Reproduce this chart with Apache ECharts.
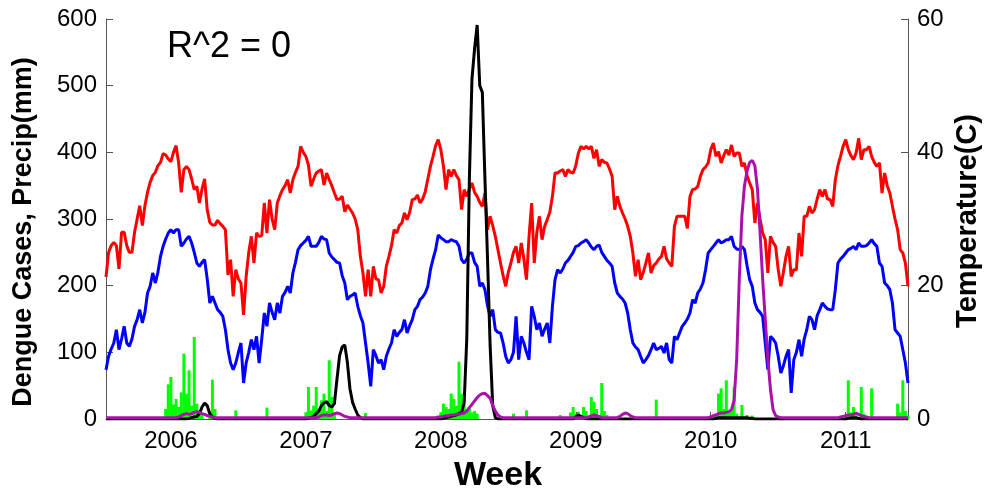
<!DOCTYPE html>
<html>
<head>
<meta charset="utf-8">
<title>Dengue weekly</title>
<script src="https://cdn.jsdelivr.net/npm/echarts@6/dist/echarts.min.js"></script>
<style>
    html, body {margin: 0; padding: 0; background: #fff;}
    #chart {width: 986px; height: 491px;}
</style>
</head>
<body>
<div id="chart"></div>
<script>
// week index 0 = first week on the left edge (mid 2005)
let yearTicks = [25, 77, 129, 181, 233, 285]
let yearLabels = ['2006', '2007', '2008', '2009', '2010', '2011']

// max temperature (C), right axis
let tmax = [
    21.3, 25, 26, 26.5, 26, 22.5, 28, 28, 26, 25,
    25, 28, 30, 32, 29, 32, 34, 35.5, 36.5, 37,
    38, 38.5, 39.8, 39.6, 39, 38.6, 40, 41, 38.4, 34,
    37.4, 37.9, 37.4, 36, 34.4, 34.9, 32.4, 34.5, 36, 31.4,
    29.5, 29.1, 29.1, 29.8, 29.3, 28.9, 28.4, 21.6, 23.9, 18.4,
    22.4, 21, 20.4, 15.6, 21.4, 25, 27.4, 23.4, 27.9, 27.4,
    27.5, 32.4, 27.9, 32.9, 30, 28.4, 32.4, 33.5, 34.4, 35,
    35.9, 33.9, 35.9, 37, 37.9, 40.9, 40, 39.4, 38.1, 34.9,
    36, 36.9, 37.2, 37.4, 35.1, 36.9, 35.9, 35, 33.9, 32.9,
    33, 33.4, 31.1, 32.1, 31.5, 30.9, 30, 28.4, 24.4, 21.9,
    18.4, 22.4, 18.4, 22.9, 21, 20.9, 18.9, 19.9, 22.9, 24.4,
    26, 28.4, 27.9, 29, 29.4, 30.9, 29.9, 31, 32.9, 33,
    33.6, 32.4, 33, 34.1, 36, 37.9, 39.4, 41, 41.9, 40.4,
    38, 34.4, 37.4, 36.4, 37.4, 36.5, 35.9, 31.4, 34.4, 33.4,
    34.5, 35.4, 34, 33.4, 32.5, 31.9, 33.9, 28.4, 30.4, 29,
    27.4, 25.4, 23.4, 21.5, 19.9, 22, 23.4, 25, 25.9, 23.4,
    26.4, 24, 20.9, 27.4, 32.4, 23.4, 28, 30.4, 26.9, 28.9,
    29.9, 31, 33.4, 36.9, 36.9, 37.2, 37.4, 36.4, 37.4, 37,
    36.9, 38, 39.9, 40.9, 40.5, 40.9, 40.5, 40.9, 39.1, 40.4,
    37.9, 38.9, 38.5, 38.4, 37.5, 36.4, 31.4, 33.4, 31.9, 30.9,
    30, 28.9, 27.4, 24.9, 21.4, 23.9, 20.9, 22, 23.4, 24.9,
    21.9, 23, 23.4, 24, 24.4, 25.9, 24, 23.4, 22.9, 28.9,
    30.4, 30.4, 30.4, 30.4, 28.6, 33.4, 34.4, 34.5, 34.9, 36.4,
    37.4, 37.8, 38.4, 40.4, 41.4, 39.4, 40.1, 38.4, 39.5, 40.4,
    39.6, 41.1, 39.4, 39.9, 39.9, 37.9, 38.4, 36.5, 35.4, 34.4,
    29.4, 32.4, 30, 27.9, 26.9, 21.9, 27.4, 26.5, 25.9, 22.4,
    19.9, 22, 24.4, 25.9, 21.4, 22.4, 22.4, 27.9, 24.4, 30.4,
    30.4, 31.9, 30.9, 31.4, 33, 34.4, 33.4, 34.4, 33, 32.9,
    31.9, 35.9, 38, 39.4, 40.9, 41.9, 40.4, 39.5, 38.9, 39.9,
    42.1, 38.9, 40.4, 40.4, 40.9, 39.4, 38.5, 37.9, 38.4, 33.9,
    36.9, 35, 33.9, 31.9, 30, 28.4, 25.4, 24.9, 23.4, 19.9
]

// min temperature (C), right axis
let tmin = [
    7.4, 9.4, 10.5, 11.4, 13.4, 10.4, 12, 13.9, 11.4, 10.9,
    12, 13.9, 14.9, 16.4, 14.4, 16, 18.9, 19.9, 21.9, 20.4,
    22, 24.4, 25.9, 27, 27.9, 28.4, 27.9, 28.4, 28.4, 25.9,
    26.4, 27, 27.4, 26.4, 25, 23.4, 22.9, 23.5, 23.9, 21,
    17.4, 18.4, 17.4, 16.4, 16, 15.4, 13.4, 10.4, 8.4, 7.4,
    8.4, 10, 11.4, 5.4, 8.4, 10, 11.9, 10.4, 12.4, 8.4,
    12, 15.9, 13.9, 17.4, 16, 14.9, 17.4, 15.9, 18.4, 19,
    19.9, 18.9, 21.9, 23.5, 25.4, 26, 26.4, 26.8, 27.4, 25.9,
    25.9, 25.9, 26.5, 27.4, 27, 26.9, 24.9, 24.3, 23.9, 23.5,
    23.4, 21.5, 20.4, 17.9, 18.4, 18.6, 18.9, 16.9, 15.5, 14.4,
    11.4, 8.4, 4.9, 10.4, 9.5, 8.4, 8.9, 7.4, 9.4, 10.5,
    11.4, 13.4, 12.4, 13, 13.4, 14.9, 12.9, 14, 14.9, 16.4,
    16.9, 17.9, 18.3, 18.9, 19.9, 22.4, 24, 25.4, 27.6, 27.2,
    26.9, 26.6, 26.6, 26.9, 26.7, 26.6, 25.9, 23.9, 23.4, 24,
    24.9, 24.9, 23.5, 22.9, 19.9, 20.4, 19.4, 17, 15.4, 16.4,
    13.4, 13, 12.9, 11.4, 9.4, 8.4, 8.9, 10, 15.4, 8.9,
    12.4, 11.4, 10, 8.9, 16.9, 15.4, 13.4, 14.4, 12.4, 13.5,
    14.4, 11.4, 16.9, 20.9, 22.4, 21.9, 22.5, 23.4, 23.8, 24.4,
    25, 25.9, 26, 26.4, 26.6, 26.9, 26.4, 25.8, 25.4, 25.9,
    26.1, 25, 24.4, 23.8, 23.4, 22.9, 20.4, 18.9, 18.4, 18,
    17.4, 15.9, 13.4, 11.4, 10.8, 10.4, 9.4, 8.4, 8.9, 9.5,
    10.4, 11.4, 10.4, 10.6, 10.9, 9.9, 11.4, 8.9, 8.4, 12.4,
    11.9, 12.9, 13.9, 14.4, 15, 15.9, 17.9, 17.4, 18.9, 19.5,
    20.4, 22.4, 24.9, 25.4, 25.9, 26.4, 26.9, 26.4, 26.6, 26.9,
    26.9, 27.4, 25.9, 25.5, 25.4, 25.9, 25.4, 23, 20.9, 19.9,
    17.4, 16.4, 16, 15.4, 11.4, 7.4, 12.4, 12, 11.4, 9.4,
    6.9, 8, 9.4, 10.4, 3.9, 8.9, 10, 11.9, 9.4, 12,
    13.4, 15.4, 14.9, 13.4, 15.5, 16.4, 17.4, 16.9, 16.5, 16.4,
    16.4, 19.4, 23.4, 24, 24.4, 24.9, 25.4, 25.6, 25.9, 25.4,
    26.4, 25.9, 25.9, 26, 26.4, 26.9, 26.3, 25.9, 23.4, 22.9,
    20.4, 20, 19.4, 17.4, 13.4, 12.9, 12.4, 10.4, 8.4, 5.4
]

// dengue cases (black), left axis
let cases = [
    0, 0, 0, 0, 0, 0, 0, 0, 0, 0,
    0, 0, 0, 0, 0, 0, 0, 0, 0, 0,
    0, 0, 0, 0, 0, 0, 0, 0, 0, 0,
    0, 0, 1, 2, 3, 4, 8, 18, 24, 20,
    8, 3, 1, 0, 0, 0, 0, 0, 0, 0,
    0, 0, 0, 0, 0, 0, 0, 0, 0, 0,
    0, 0, 0, 0, 0, 0, 0, 0, 0, 0,
    0, 0, 0, 0, 0, 0, 0, 0, 1, 2,
    4, 8, 12, 20, 24, 26, 20, 18, 23, 60,
    95, 108, 111, 85, 45, 25, 15, 6, 2, 0,
    0, 0, 0, 0, 0, 0, 0, 0, 0, 0,
    0, 0, 0, 0, 0, 0, 0, 0, 0, 0,
    0, 0, 0, 0, 0, 0, 0, 0, 0, 0,
    1, 2, 3, 4, 5, 6, 8, 10, 25, 120,
    360, 510, 555, 591, 500, 490, 360, 240, 110, 20,
    2, 0, 0, 0, 0, 0, 0, 0, 0, 0,
    0, 0, 0, 0, 0, 0, 0, 0, 0, 0,
    0, 0, 0, 0, 0, 0, 0, 0, 0, 0,
    0, 3, 6, 4, 2, 0, 0, 0, 0, 0,
    0, 0, 0, 0, 0, 0, 0, 0, 0, 0,
    0, 0, 0, 0, 0, 0, 0, 0, 0, 0,
    0, 0, 0, 0, 0, 0, 0, 0, 0, 0,
    0, 0, 0, 0, 0, 0, 0, 0, 0, 0,
    0, 0, 0, 0, 0, 1, 2, 2, 2, 2,
    2, 2, 2, 2, 2, 2, 2, 2, 1, 1,
    0, 0, 0, 0, 0, 0, 0, 0, 0, 0,
    0, 0, 0, 0, 0, 0, 0, 0, 0, 0,
    0, 0, 0, 0, 0, 0, 0, 0, 0, 0,
    0, 0, 0, 0, 0, 0, 1, 2, 2, 2,
    1, 0, 0, 0, 0, 0, 0, 0, 0, 0,
    0, 0, 0, 0, 0, 0, 0, 0, 0, 0
]

// model output (magenta), left axis
let model = [
    2, 2, 2, 2, 2, 2, 2, 2, 2, 2,
    2, 2, 2, 2, 2, 2, 2, 2, 2, 2,
    2, 2, 2, 2, 2, 2, 2, 2, 3, 5,
    7, 8, 7, 8, 10, 11, 10, 8, 7, 5,
    4, 3, 2, 2, 2, 2, 2, 2, 2, 2,
    2, 2, 2, 2, 2, 2, 2, 2, 2, 2,
    2, 2, 2, 2, 2, 2, 2, 2, 2, 2,
    2, 2, 2, 2, 2, 2, 2, 2, 2, 2,
    2, 2, 3, 5, 6, 6, 5, 6, 8, 9,
    8, 6, 4, 3, 2, 2, 2, 2, 2, 2,
    2, 2, 2, 2, 2, 2, 2, 2, 2, 2,
    2, 2, 2, 2, 2, 2, 2, 2, 2, 2,
    2, 2, 2, 2, 2, 2, 2, 2, 3, 3,
    4, 5, 5, 6, 6, 7, 7, 8, 9, 12,
    17, 22, 27, 32, 36, 38, 38.5, 35, 31, 20,
    12, 6, 3, 2, 2, 2, 2, 2, 2, 2,
    2, 2, 2, 2, 2, 2, 2, 2, 2, 2,
    2, 2, 2, 2, 2, 2, 2, 2, 2, 2,
    2, 2, 2, 2, 2, 2, 3, 5, 6, 5,
    4, 2, 2, 2, 2, 2, 2, 2, 4, 7,
    9, 8, 5, 3, 2, 2, 2, 2, 2, 2,
    2, 2, 2, 2, 2, 2, 2, 2, 2, 2,
    2, 2, 2, 2, 2, 2, 2, 2, 2, 2,
    2, 2, 2, 3, 5, 6, 8, 9, 9, 10,
    11, 14, 28, 90, 210, 305, 350, 372, 385, 388,
    380, 345, 280, 210, 150, 90, 45, 14, 5, 3,
    2, 2, 2, 2, 2, 2, 2, 2, 2, 2,
    2, 2, 2, 2, 2, 2, 2, 2, 2, 2,
    2, 2, 2, 3, 4, 5, 6, 6, 7, 9,
    7, 5, 4, 3, 2, 2, 2, 2, 2, 2,
    2, 2, 2, 2, 2, 2, 2, 2, 2, 2
]

// weekly precipitation (green bars), only weeks with rain
let precipWeek = [23, 24, 25, 26, 27, 28, 29, 30, 31, 32, 33, 34, 35, 36, 37, 40, 41, 42, 50, 62,
    77, 78, 79, 80, 81, 82, 83, 84, 85, 86, 87, 88, 100,
    129, 130, 131, 132, 133, 134, 135, 136, 137, 138, 139, 140, 141, 142, 143, 157, 162,
    175, 179, 180, 181, 182, 184, 185, 187, 188, 189, 191, 192, 193, 212,
    233, 235, 236, 237, 238, 239, 240, 241, 242, 243, 245, 247, 249,
    286, 287, 288, 289, 291, 292, 295, 305, 306, 307, 308, 309]
let precipVal = [15, 52, 63, 22, 30, 18, 40, 98, 38, 73, 20, 123, 23, 12, 8, 10, 59, 15, 13, 17,
    10, 48, 13, 20, 48, 15, 28, 38, 12, 88, 33, 8, 9,
    10, 23, 18, 15, 38, 30, 20, 86, 38, 23, 15, 18, 10, 12, 8, 8, 13,
    6, 10, 18, 8, 11, 18, 12, 33, 26, 15, 54, 12, 6, 29,
    5, 8, 38, 46, 15, 58, 10, 12, 48, 8, 21, 6, 5,
    58, 10, 18, 8, 48, 8, 46, 23, 10, 58, 12, 5]

let fontName = '"Liberation Sans", Arial, sans-serif'
let axisColor = '#555'

function weekPairs(arr) {
    let out = []
    for (let i = 0; i < arr.length; i++) {
        out.push([i, arr[i]])
    }
    return out
}

function lineSeries(name, arr, color, yIdx) {
    return {
        name: name,
        type: 'line',
        yAxisIndex: yIdx,
        data: weekPairs(arr),
        showSymbol: false,
        symbol: 'none',
        lineStyle: {color: color, width: 3},
        itemStyle: {color: color}
    }
}

let precipData = []
for (let i = 0; i < precipWeek.length; i++) {
    precipData.push([precipWeek[i], precipVal[i]])
}

let chart = echarts.init(document.getElementById('chart'))
let option = {
    animation: false,
    backgroundColor: '#fff',
    grid: {left: 106, right: 78, top: 19, bottom: 72},
    xAxis: {
        type: 'value',
        min: 0,
        max: 309,
        axisLine: {show: true, onZero: false, lineStyle: {color: axisColor, width: 1}},
        axisTick: {show: true, inside: true, length: 7, customValues: yearTicks, lineStyle: {color: axisColor}},
        axisLabel: {
            customValues: yearTicks,
            formatter: function (v) {
                let k = yearTicks.indexOf(v)
                return k >= 0 ? yearLabels[k] : ''
            },
            margin: 10,
            color: '#000',
            fontSize: 24,
            fontFamily: fontName
        },
        splitLine: {show: false}
    },
    yAxis: [{
        type: 'value',
        position: 'left',
        min: 0,
        max: 600,
        interval: 100,
        axisLine: {show: true, lineStyle: {color: axisColor, width: 1}},
        axisTick: {show: true, inside: true, length: 7, lineStyle: {color: axisColor}},
        axisLabel: {margin: 9, color: '#000', fontSize: 24, fontFamily: fontName},
        splitLine: {show: false}
    }, {
        type: 'value',
        position: 'right',
        min: 0,
        max: 60,
        interval: 20,
        axisLine: {show: true, lineStyle: {color: axisColor, width: 1}},
        axisTick: {show: true, inside: true, length: 7, lineStyle: {color: axisColor}},
        axisLabel: {margin: 9, color: '#000', fontSize: 24, fontFamily: fontName},
        splitLine: {show: false}
    }],
    series: [{
        name: 'Precip',
        type: 'bar',
        yAxisIndex: 0,
        data: precipData,
        barWidth: 3,
        itemStyle: {color: '#00ff00'}
    },
        lineSeries('Tmax', tmax, '#ff0000', 1),
        lineSeries('Tmin', tmin, '#0000ff', 1),
        lineSeries('Cases', cases, '#000000', 0),
        lineSeries('Model', model, '#aa11aa', 0)
    ],
    graphic: [{
        type: 'text',
        x: 167,
        y: 47,
        style: {
            text: 'R^2 = 0', font: '36px ' + fontName, fill: '#000',
            align: 'left', verticalAlign: 'middle', textAlign: 'left', textVerticalAlign: 'middle'
        }
    }, {
        type: 'text',
        x: 24,
        y: 232,
        rotation: Math.PI / 2,
        style: {
            text: 'Dengue Cases, Precip(mm)', font: 'bold 27px ' + fontName, fill: '#000',
            align: 'center', verticalAlign: 'middle', textAlign: 'center', textVerticalAlign: 'middle'
        }
    }, {
        type: 'text',
        x: 968,
        y: 221,
        rotation: Math.PI / 2,
        style: {
            text: 'Temperature(C)', font: 'bold 29px ' + fontName, fill: '#000',
            align: 'center', verticalAlign: 'middle', textAlign: 'center', textVerticalAlign: 'middle'
        }
    }, {
        type: 'text',
        x: 498,
        y: 476,
        style: {
            text: 'Week', font: 'bold 34px ' + fontName, fill: '#000',
            align: 'center', verticalAlign: 'middle', textAlign: 'center', textVerticalAlign: 'middle'
        }
    }]
}
chart.setOption(option)
</script>
</body>
</html>
